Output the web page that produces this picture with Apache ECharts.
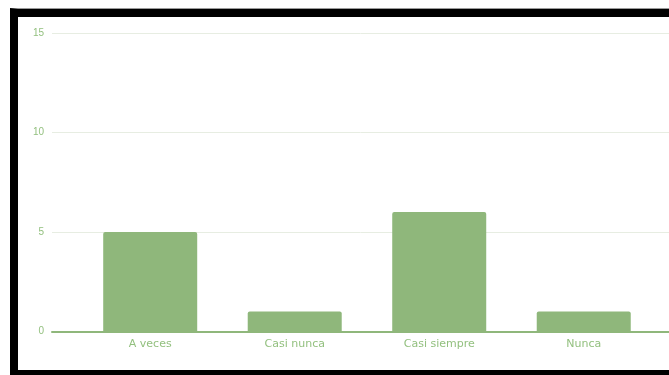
<!DOCTYPE html>
<html lang="es">
<head>
    <meta charset="UTF-8">
    <title>Respuestas</title>
    <script src="https://cdn.jsdelivr.net/npm/echarts@6/dist/echarts.min.js"></script>
    <style>
        html, body {
            margin: 0;
            padding: 0;
            background: #fff;
            overflow: hidden;
        }

        #main {
            position: absolute;
            left: 0;
            top: 0;
            width: 669px;
            height: 375px;
        }

        /* black frame round the screenshot, right side cut off */
        #frame {
            position: absolute;
            left: 10px;
            top: 8px;
            width: 720px;
            height: 361px;
            border-top: 1px solid #9a9a9a;
            border-left: 8px solid #000;
            border-bottom: 8px solid #000;
            box-shadow: inset 0 8px 0 #000;
            pointer-events: none;
        }
    </style>
</head>
<body>
<div id="main"></div>
<div id="frame"></div>
<script>
    var categories = ['A veces', 'Casi nunca', 'Casi siempre', 'Nunca'];
    var counts = [5, 1, 6, 1];
    var yTicks = [0, 5, 10, 15];

    var green = '#8fb77b';
    var labelGreen = '#93c07f';
    var gridColor = '#e7ede2';

    // bars sit on x = 1..4 of a value axis so the plot can start left of the first band
    var barData = counts.map(function (v, i) {
        return [i + 1, v];
    });

    var myChart = echarts.init(document.getElementById('main'));
    var option = {
        animation: false,
        grid: {
            left: 52,
            right: 0,
            top: 33,
            bottom: 43.5
        },
        xAxis: {
            type: 'value',
            min: 0.3204,
            max: 4.590,
            axisLine: {
                show: true,
                onZero: false,
                lineStyle: {color: green, width: 2}
            },
            axisTick: {show: false},
            splitLine: {show: false},
            axisLabel: {
                customValues: [1, 2, 3, 4],
                formatter: function (v) {
                    return categories[Math.round(v) - 1] || '';
                },
                color: labelGreen,
                fontFamily: 'DejaVu Sans',
                fontSize: 11,
                margin: 7
            }
        },
        yAxis: {
            type: 'value',
            min: yTicks[0],
            max: yTicks[yTicks.length - 1],
            interval: 5,
            axisLine: {show: false},
            axisTick: {show: false},
            splitLine: {
                lineStyle: {color: gridColor, width: 1}
            },
            axisLabel: {
                color: labelGreen,
                fontFamily: 'Liberation Sans',
                fontSize: 10,
                margin: 8
            }
        },
        series: [
            {
                type: 'bar',
                data: barData,
                barWidth: 94,
                itemStyle: {
                    color: green,
                    borderRadius: [2, 2, 0, 0]
                }
            }
        ]
    };
    myChart.setOption(option);
</script>
</body>
</html>
